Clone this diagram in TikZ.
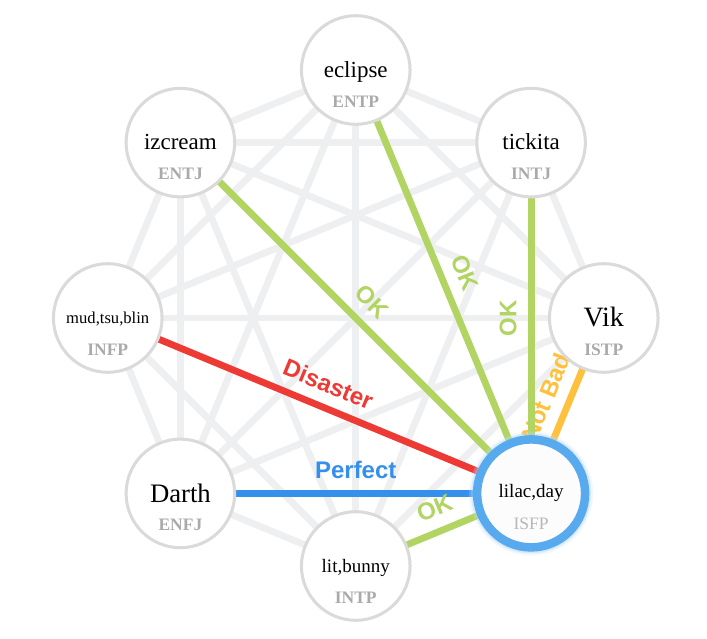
\documentclass[tikz,border=0pt]{standalone}
\usepackage{fontspec}
\setmainfont{Liberation Serif}
\newfontfamily\lblfont{Liberation Sans}
\pgfdeclarelayer{bgpaper}
\pgfdeclarelayer{edges}
\pgfdeclarelayer{glow}
\pgfsetlayers{bgpaper,edges,glow,main}
\definecolor{edgegray}{HTML}{EEEFF1}
\definecolor{ringgray}{HTML}{DADADA}
\definecolor{typegray}{HTML}{AAAAAA}
\definecolor{okgreen}{HTML}{B1D462}
\definecolor{badred}{HTML}{EE3A35}
\definecolor{perfblue}{HTML}{3590EB}
\definecolor{notbad}{HTML}{FDC13D}
\definecolor{ringblue}{HTML}{58AAEF}
\definecolor{lilfill}{HTML}{FCFCFC}
\tikzset{
  person/.style={circle, draw=ringgray, line width=3pt, fill=white, minimum size=108.6pt, inner sep=0pt},
  focus/.style={circle, draw=ringblue, line width=8.5pt, fill=lilfill, minimum size=108pt, inner sep=0pt},
  pname/.style={anchor=base, inner sep=0pt, text=black},
  ptype/.style={anchor=base, inner sep=0pt, text=typegray, font=\bfseries\fontsize{17.5}{17.5}\selectfont},
  grayedge/.style={draw=edgegray, line width=6.8pt},
  coloredge/.style={line width=6.8pt},
  elabel/.style={midway, sloped, anchor=south, inner xsep=0pt, inner ysep=14.5pt, outer sep=0pt,
    font=\lblfont\bfseries\fontsize{24}{24}\selectfont}
}
\begin{document}
\begin{tikzpicture}[x=1pt,y=-1pt]
\useasboundingbox (0,0) rectangle (707,638);
\begin{pgfonlayer}{bgpaper}
\fill[white] (0,0) rectangle (707,638);
\end{pgfonlayer}
% nodes
\node[person] (ecl) at (355.75,70) {};
\node[person] (tic) at (531.1,142.6) {};
\node[person] (vik) at (603.75,318) {};
\node[focus]  (lil) at (531.1,493.4) {};
\node[person] (lit) at (355.75,566) {};
\node[person] (dar) at (180.4,493.4) {};
\node[person] (mud) at (107.75,318) {};
\node[person] (izc) at (180.4,142.6) {};
% names
\node[pname, font=\fontsize{23}{23}\selectfont] (eclN) at ([yshift=-7pt]ecl.center) {eclipse};
\node[pname, font=\fontsize{23}{23}\selectfont] (ticN) at ([yshift=-6.5pt]tic.center) {tickita};
\node[pname, font=\fontsize{28}{28}\selectfont] (vikN) at ([yshift=-8pt]vik.center) {Vik};
\node[pname, font=\fontsize{19}{19}\selectfont] (lilN) at ([yshift=-4.5pt]lil.center) {lilac,day};
\node[pname, font=\fontsize{19}{19}\selectfont] (litN) at ([yshift=-6pt]lit.center) {lit,bunny};
\node[pname, font=\fontsize{26.7}{26.7}\selectfont] (darN) at ([yshift=-9pt]dar.center) {Darth};
\node[pname, font=\fontsize{16.6}{16.6}\selectfont] (mudN) at ([yshift=-5pt]mud.center) {mud,tsu,blin};
\node[pname, font=\fontsize{23}{23}\selectfont] (izcN) at ([yshift=-6.5pt]izc.center) {izcream};
% types
\node[ptype] (eclT) at ([yshift=-37pt]ecl.center) {ENTP};
\node[ptype] (ticT) at ([yshift=-37pt]tic.center) {INTJ};
\node[ptype] (vikT) at ([yshift=-37pt]vik.center) {ISTP};
\node[ptype, font=\fontsize{17.5}{17.5}\selectfont, text=typegray!85] (lilT) at ([yshift=-36pt]lil.center) {ISFP};
\node[ptype] (litT) at ([yshift=-37pt]lit.center) {INTP};
\node[ptype] (darT) at ([yshift=-37pt]dar.center) {ENFJ};
\node[ptype] (mudT) at ([yshift=-37pt]mud.center) {INFP};
\node[ptype] (izcT) at ([yshift=-37pt]izc.center) {ENTJ};
% glow around focus node
\begin{pgfonlayer}{glow}
\fill[ringblue!35, opacity=0.25] (lil.center) circle (62);
\fill[ringblue!50, opacity=0.35] (lil.center) circle (60);
\end{pgfonlayer}
% edges
\begin{pgfonlayer}{edges}
\foreach \a/\b in {ecl/tic, ecl/vik, ecl/lit, ecl/dar, ecl/mud, ecl/izc,
  tic/vik, tic/lit, tic/dar, tic/mud, tic/izc,
  vik/lit, vik/dar, vik/mud, vik/izc,
  lit/dar, lit/mud, lit/izc, dar/mud, dar/izc, mud/izc}
  \draw[grayedge] (\a.center) -- (\b.center);
\draw[coloredge, draw=notbad] (vik.center) -- node[elabel, text=notbad] (lblVik) {Not Bad} (lil.center);
\draw[coloredge, draw=okgreen] (izc.center) -- node[elabel, text=okgreen] (lblIzc) {OK} (lil.center);
\draw[coloredge, draw=okgreen] (ecl.center) -- node[elabel, text=okgreen] (lblEcl) {OK} (lil.center);
\draw[coloredge, draw=okgreen] (lil.center) -- node[elabel, text=okgreen] (lblTic) {OK} (tic.center);
\draw[coloredge, draw=badred] (mud.center) -- node[elabel, text=badred] (lblMud) {Disaster} (lil.center);
\draw[coloredge, draw=perfblue] (dar.center) -- node[elabel, text=perfblue] (lblDar) {Perfect} (lil.center);
\draw[coloredge, draw=okgreen] (lit.center) -- node[elabel, text=okgreen] (lblLit) {OK} (lil.center);
\end{pgfonlayer}
\end{tikzpicture}
\end{document}
